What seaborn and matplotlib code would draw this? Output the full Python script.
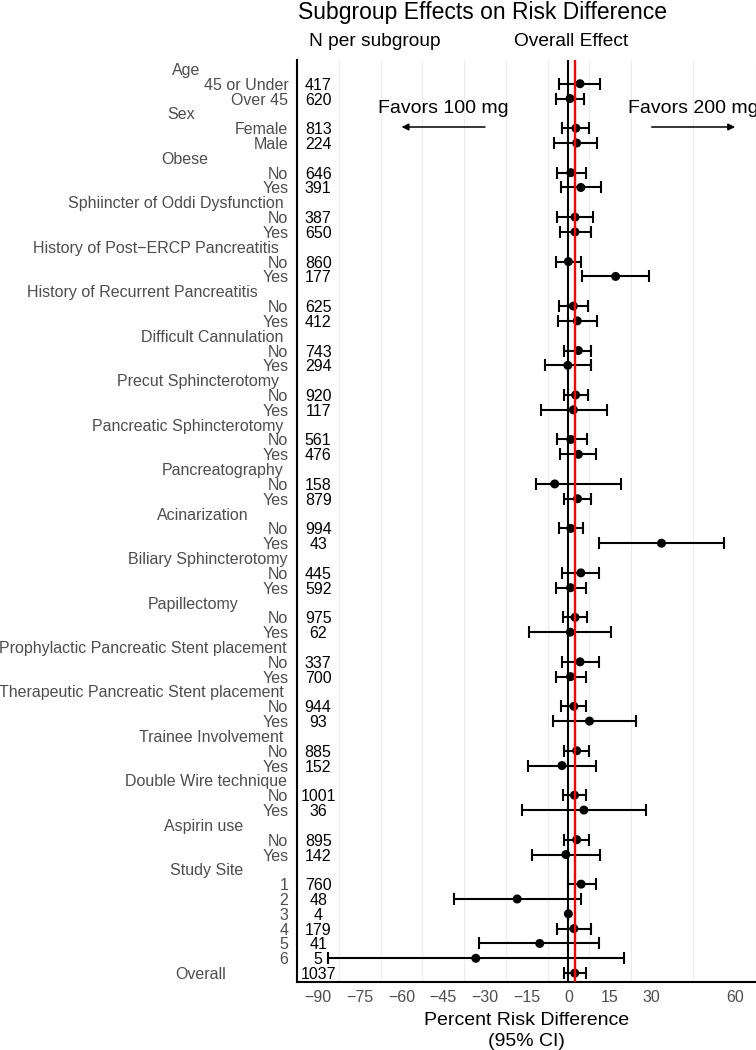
import numpy as np
import pandas as pd
import matplotlib
matplotlib.use("Agg")
import matplotlib.pyplot as plt
import matplotlib.transforms as mtransforms
import seaborn as sns

# ---------------- data ----------------
group_names = ["Age", "Sex", "Obese", "Sphiincter of Oddi Dysfunction",
               "History of Post\u2212ERCP Pancreatitis", "History of Recurrent Pancreatitis",
               "Difficult Cannulation", "Precut Sphincterotomy", "Pancreatic Sphincterotomy",
               "Pancreatography", "Acinarization", "Biliary Sphincterotomy", "Papillectomy",
               "Prophylactic Pancreatic Stent placement", "Therapeutic Pancreatic Stent placement",
               "Trainee Involvement", "Double Wire technique", "Aspirin use", "Study Site"]
group_levels = ([["45 or Under", "Over 45"], ["Female", "Male"]]
                + [["No", "Yes"]] * 16
                + [["1", "2", "3", "4", "5", "6"]])

n_per = [417, 620, 813, 224, 646, 391, 387, 650, 860, 177, 625, 412, 743, 294,
         920, 117, 561, 476, 158, 879, 994, 43, 445, 592, 975, 62, 337, 700,
         944, 93, 885, 152, 1001, 36, 895, 142, 760, 48, 4, 179, 41, 5]
est = [4.2, 0.6, 2.7, 3.0, 0.9, 4.5, 2.4, 2.4, 0.0, 17.0, 1.8, 3.2, 3.6, -0.2,
       2.6, 1.8, 0.9, 3.6, -4.9, 3.3, 0.9, 33.5, 4.5, 0.8, 2.4, 0.7, 4.2, 0.8,
       2.0, 7.6, 3.0, -2.3, 2.2, 5.6, 3.0, -0.9, 4.6, -18.4, 0.0, 2.0, -10.3, -33.3]
ci_low = [-3.3, -4.5, -2.3, -5.0, -4.1, -2.6, -4.1, -2.9, -4.5, 4.8, -3.2, -3.9, -1.4, -8.4,
          -1.7, -9.9, -4.0, -2.9, -11.7, -1.4, -3.2, 11.0, -2.2, -4.4, -1.9, -14.1, -2.2, -4.4,
          -2.6, -5.5, -1.4, -14.6, -1.9, -16.6, -1.5, -12.9, -0.2, -41.1, 0.0, -4.0, -32.0, -86.4]
ci_high = [11.4, 5.6, 7.6, 10.4, 6.4, 11.6, 8.7, 8.0, 4.4, 29.1, 7.1, 10.2, 8.1, 8.1,
           7.0, 13.8, 6.8, 9.9, 18.9, 8.0, 5.1, 56.1, 11.2, 6.2, 6.8, 15.3, 10.9, 6.3,
           6.4, 24.2, 7.4, 9.9, 6.5, 28.1, 7.4, 11.4, 9.9, 4.4, 0.0, 8.0, 11.2, 20.1]

overall_label = "Overall"
overall_n = 1037
overall_est = 2.3
overall_low = -1.7
overall_high = 6.5

x_ticks = [-90, -75, -60, -45, -30, -15, 0, 15, 30, 60]
x_minor = [-82.5, -67.5, -52.5, -37.5, -22.5, -7.5, 7.5, 22.5, 45, 67.5]

# ---------------- styles / positions ----------------
header_gap_px = [88, 93, 80, 5, 9, 31, 5, 9, 5, 5, 40, 1, 50, 2, 4, 5, 1, 45, 45]
overall_gap_px = 62
label_pad_px = 9
GRAY = "#4D4D4D"

# ---------------- build table ----------------
rows = []
r = 0
k = 0
headers = []
for g, levels in zip(group_names, group_levels):
    headers.append((g, r))
    r += 1
    for lv in levels:
        rows.append(dict(label=lv, row=r, n=n_per[k], est=est[k], lo=ci_low[k], hi=ci_high[k]))
        k += 1
        r += 1
overall_row = r
df = pd.DataFrame(rows)
df_all = pd.concat([df, pd.DataFrame([dict(label=overall_label, row=overall_row, n=overall_n,
                                            est=overall_est, lo=overall_low, hi=overall_high)])],
                   ignore_index=True)

# ---------------- plot ----------------
sns.set_theme(style="white")
plt.rcParams["font.family"] = ["Liberation Sans", "DejaVu Sans"]

W, H = 756, 1050
fig = plt.figure(figsize=(W / 100, H / 100), dpi=100)
ax_left, ax_right, ax_top, ax_bottom = 297.3, 756, 60, 982
ax = fig.add_axes([ax_left / W, 1 - ax_bottom / H, (ax_right - ax_left) / W, (ax_bottom - ax_top) / H])

ax.set_xlim(-97.5, 67.5)
ax.set_ylim(overall_row + 0.6, -0.6)

ax.set_xticks(x_ticks)
ax.set_xticks(x_minor, minor=True)
ax.grid(False)
ax.grid(True, which="minor", axis="x", color="#EBEBEB", lw=0.8, zorder=0)
ax.set_yticks([])
ax.tick_params(axis="x", which="both", length=0, pad=5.5, labelsize=11.5, labelcolor=GRAY)
ax.set_xticklabels([str(t) if t >= 0 else "\u2212" + str(-t) for t in x_ticks])

for s in ["top", "right"]:
    ax.spines[s].set_visible(False)
for s in ["left", "bottom"]:
    ax.spines[s].set_color("black")
    ax.spines[s].set_linewidth(1.5)
ax.set_axisbelow(True)

ax.axvline(0, color="black", lw=1.5, zorder=2)

ax.errorbar(df_all["est"], df_all["row"],
            xerr=[df_all["est"] - df_all["lo"], df_all["hi"] - df_all["est"]],
            fmt="none", ecolor="black", elinewidth=1.5, capsize=4.5, capthick=1.5, zorder=3,
            clip_on=True)
sns.scatterplot(data=df_all, x="est", y="row", color="black", s=42, edgecolor="none",
                ax=ax, zorder=4, legend=False)
ax.axvline(overall_est, color="#FF0000", lw=1.7, zorder=5)
ax.set_xlabel("")
ax.set_ylabel("")

# N column
for _, rw in df_all.iterrows():
    ax.text(-90, rw["row"], str(int(rw["n"])), ha="center", va="center_baseline",
            fontsize=11.5, color="black", zorder=6)

# Row labels
ytrans = ax.get_yaxis_transform()
for _, rw in df.iterrows():
    t = mtransforms.offset_copy(ytrans, fig=fig, x=-label_pad_px, y=0, units="dots")
    ax.text(0, rw["row"], rw["label"], transform=t, ha="right", va="center_baseline",
            fontsize=11.5, color=GRAY, clip_on=False)
for (g, rr), gap in zip(headers, header_gap_px):
    t = mtransforms.offset_copy(ytrans, fig=fig, x=-(label_pad_px + gap), y=0, units="dots")
    ax.text(0, rr, g, transform=t, ha="right", va="center_baseline",
            fontsize=11.5, color=GRAY, clip_on=False)
t = mtransforms.offset_copy(ytrans, fig=fig, x=-(label_pad_px + overall_gap_px), y=0, units="dots")
ax.text(0, overall_row, overall_label, transform=t, ha="right", va="center_baseline",
        fontsize=11.5, color=GRAY, clip_on=False)

# Favors annotations
ax.text(-45, 2.95, "Favors 100 mg", ha="center", va="baseline", fontsize=14, color="black")
ax.text(45, 2.95, "Favors 200 mg", ha="center", va="baseline", fontsize=14, color="black",
        clip_on=False)
arrow_kw = dict(arrowstyle="-|>", color="black", lw=1.1, mutation_scale=10, shrinkA=0, shrinkB=0)
ax.annotate("", xy=(-60, 3.92), xytext=(-30, 3.92), arrowprops=arrow_kw)
ax.annotate("", xy=(60, 3.92), xytext=(30, 3.92), arrowprops=arrow_kw)

# Titles
fig.text(298 / W, 1 - 19 / H, "Subgroup Effects on Risk Difference", ha="left", va="baseline",
         fontsize=16.5, color="black")
fig.text(309 / W, 1 - 46 / H, "N per subgroup", ha="left", va="baseline", fontsize=13.8, color="black")
fig.text(514 / W, 1 - 46 / H, "Overall Effect", ha="left", va="baseline", fontsize=13.8, color="black")

# x label
xc = (ax_left + ax_right) / 2 / W
fig.text(xc, 1 - 1025 / H, "Percent Risk Difference", ha="center", va="baseline", fontsize=14, color="black")
fig.text(xc, 1 - 1046 / H, "(95% CI)", ha="center", va="baseline", fontsize=14, color="black")

fig.savefig("out.png", dpi=100)
